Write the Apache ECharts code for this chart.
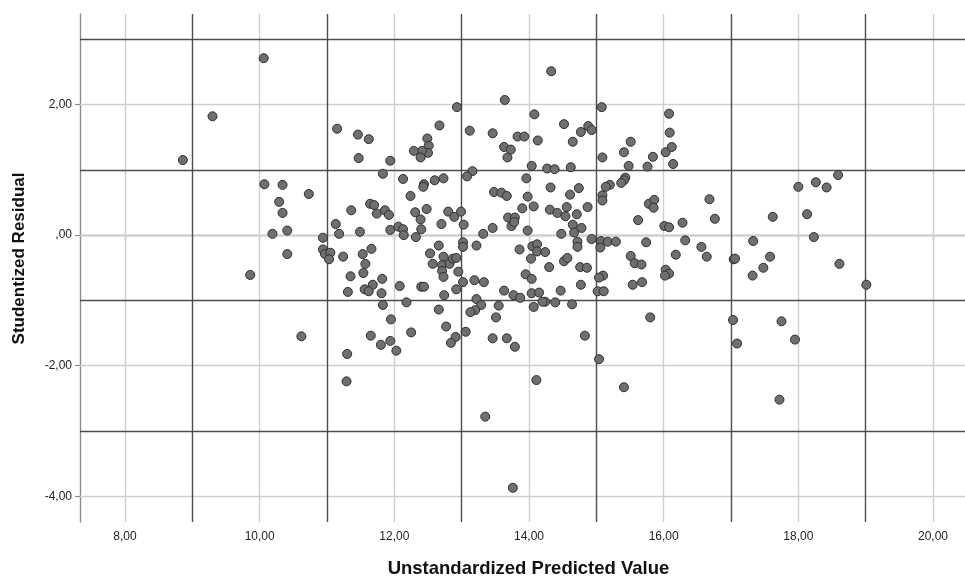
<!DOCTYPE html>
<html>
<head>
<meta charset="utf-8">
<script src="https://cdn.jsdelivr.net/npm/echarts@6/dist/echarts.min.js"></script>
<style>
  html, body { margin: 0; padding: 0; background: #ffffff; }
  #chart { width: 965px; height: 578px; }
</style>
</head>
<body>
<div id="chart"></div>
<script>
// Unstandardized predicted value for each case
const predicted = [
  8.86, 9.30, 10.06, 10.07, 10.34, 10.73, 10.29, 10.34, 10.41, 10.19,
  10.41, 10.94, 10.94, 10.97, 11.05, 11.03, 9.86, 10.62, 11.15, 11.46,
  11.62, 11.47, 11.83, 11.13, 11.18, 11.36, 11.49, 11.64, 11.70, 11.74,
  11.86, 11.66, 11.24, 11.53, 11.57, 11.54, 11.35, 11.82, 11.68, 11.56,
  11.62, 11.31, 11.81, 11.83, 11.65, 11.80, 11.30, 11.29, 13.64, 12.93,
  14.08, 12.67, 13.12, 13.46, 13.83, 13.93, 14.13, 12.49, 12.51, 12.50,
  12.41, 12.39, 12.29, 13.63, 13.73, 13.68, 11.94, 14.04, 13.16, 13.08,
  12.13, 12.60, 12.73, 12.44, 12.43, 13.96, 12.24, 13.48, 13.59, 13.67,
  13.98, 11.92, 12.31, 12.39, 12.48, 12.80, 12.89, 12.99, 13.03, 12.70,
  12.40, 11.94, 12.06, 12.13, 12.14, 12.32, 13.90, 14.07, 13.69, 13.79,
  13.74, 13.78, 13.46, 13.32, 13.98, 13.02, 13.02, 12.66, 13.22, 13.86,
  14.05, 14.12, 15.08, 16.08, 14.52, 14.77, 14.88, 14.93, 14.65, 16.09,
  15.51, 15.41, 15.09, 15.84, 16.03, 16.12, 16.14, 14.27, 14.38, 14.62,
  15.48, 15.76, 15.43, 15.41, 15.37, 15.20, 15.14, 15.09, 15.09, 14.32,
  14.74, 14.61, 14.87, 14.31, 14.42, 14.54, 14.56, 14.71, 15.78, 15.86,
  15.85, 15.62, 14.65, 14.67, 14.78, 14.48, 16.01, 16.08, 16.28, 14.93,
  15.07, 15.17, 15.29, 14.72, 14.72, 15.74, 16.32, 16.56, 15.06, 12.53,
  12.57, 12.73, 12.71, 12.82, 12.87, 12.92, 12.95, 14.33, 14.12, 14.24,
  14.03, 14.52, 14.57, 14.30, 14.76, 14.86, 15.10, 15.04, 15.51, 15.57,
  15.67, 16.68, 16.76, 16.64, 16.18, 17.33, 17.62, 17.04, 17.06, 17.58,
  17.48, 17.32, 18.00, 18.26, 18.42, 18.59, 18.13, 18.23, 18.61, 16.03,
  16.08, 16.02, 19.01, 17.03, 17.09, 17.75, 17.95, 17.72, 14.77, 15.54,
  15.68, 15.02, 15.11, 14.47, 14.24, 14.39, 14.64, 15.80, 14.83, 15.04,
  15.41, 12.71, 12.73, 13.02, 13.19, 13.33, 12.92, 12.74, 12.40, 12.44,
  12.08, 12.18, 11.95, 12.25, 11.94, 12.03, 12.66, 13.22, 13.29, 13.20,
  13.13, 13.55, 13.51, 12.77, 13.06, 12.91, 12.84, 13.46, 13.67, 13.79,
  13.63, 13.77, 13.87, 14.04, 14.15, 14.20, 14.07, 13.95, 14.04, 14.11,
  13.35, 13.76
];

// Studentized residual for each case (same order as predicted)
const residual = [
  1.15, 1.82, 2.71, 0.78, 0.77, 0.63, 0.51, 0.34, 0.07, 0.02,
  -0.29, -0.04, -0.22, -0.29, -0.27, -0.37, -0.61, -1.55, 1.63, 1.54,
  1.47, 1.18, 0.94, 0.17, 0.02, 0.38, 0.05, 0.48, 0.46, 0.33,
  0.38, -0.21, -0.33, -0.29, -0.44, -0.58, -0.63, -0.67, -0.76, -0.83,
  -0.86, -0.87, -0.89, -1.07, -1.54, -1.68, -1.82, -2.24, 2.07, 1.96,
  1.85, 1.68, 1.60, 1.56, 1.51, 1.51, 1.45, 1.48, 1.37, 1.26,
  1.29, 1.19, 1.29, 1.35, 1.31, 1.19, 1.14, 1.06, 0.98, 0.90,
  0.86, 0.84, 0.87, 0.78, 0.74, 0.87, 0.60, 0.66, 0.65, 0.60,
  0.59, 0.31, 0.35, 0.24, 0.40, 0.36, 0.28, 0.36, 0.16, 0.17,
  0.09, 0.08, 0.13, 0.09, 0.00, -0.03, 0.41, 0.44, 0.27, 0.27,
  0.14, 0.20, 0.11, 0.02, 0.07, -0.11, -0.18, -0.16, -0.16, -0.22,
  -0.17, -0.14, 1.96, 1.86, 1.70, 1.58, 1.67, 1.61, 1.43, 1.57,
  1.43, 1.27, 1.19, 1.20, 1.27, 1.35, 1.09, 1.02, 1.01, 1.04,
  1.06, 1.05, 0.88, 0.84, 0.80, 0.77, 0.74, 0.61, 0.53, 0.73,
  0.72, 0.62, 0.43, 0.39, 0.34, 0.29, 0.43, 0.32, 0.48, 0.54,
  0.42, 0.23, 0.16, 0.04, 0.11, 0.02, 0.14, 0.12, 0.19, -0.06,
  -0.09, -0.10, -0.10, -0.10, -0.18, -0.11, -0.08, -0.18, -0.19, -0.28,
  -0.44, -0.33, -0.46, -0.44, -0.36, -0.35, -0.56, 2.51, -0.25, -0.26,
  -0.36, -0.40, -0.35, -0.49, -0.49, -0.50, -0.62, -0.65, -0.32, -0.43,
  -0.45, 0.55, 0.25, -0.33, -0.30, -0.09, 0.28, -0.37, -0.36, -0.33,
  -0.50, -0.62, 0.74, 0.81, 0.73, 0.92, 0.32, -0.03, -0.44, -0.53,
  -0.59, -0.62, -0.76, -1.30, -1.66, -1.32, -1.60, -2.52, -0.76, -0.76,
  -0.72, -0.86, -0.86, -0.85, -1.02, -1.03, -1.06, -1.26, -1.54, -1.90,
  -2.33, -0.55, -0.64, -0.72, -0.69, -0.72, -0.83, -0.92, -0.79, -0.79,
  -0.78, -1.03, -1.29, -1.49, -1.62, -1.77, -1.14, -0.98, -1.07, -1.15,
  -1.18, -1.08, -1.26, -1.40, -1.48, -1.56, -1.65, -1.58, -1.58, -1.71,
  -0.85, -0.92, -0.96, -0.89, -0.88, -1.02, -1.10, -0.60, -0.67, -2.22,
  -2.78, -3.87
];

// Labelled tick values and the unlabelled reference lines between them
const xTickValues = [8, 10, 12, 14, 16, 18, 20];
const xMidLines = [9, 11, 13, 15, 17, 19];
const yTickValues = [-4, -2, 0, 2];
const yMidLines = [-3, -1, 1, 3];

const xRange = [7.332, 20.475];
const yRange = [-4.394, 3.387];

// SPSS-style number format: 2 decimals, comma separator, no leading zero for 0
function fmt(v) {
  if (v === 0) return ',00';
  return v.toFixed(2).replace('.', ',');
}

const FONT = 'Liberation Sans, Arial, sans-serif';
const lightGrid = { color: '#cfcfcf', width: 1.4, type: 'solid' };
const darkGrid = { color: '#4d4d4d', width: 1.4, type: 'solid' };

const gridLines = []
  .concat(xTickValues.map(v => ({ xAxis: v, lineStyle: lightGrid })))
  .concat(yTickValues.map(v => ({ yAxis: v, lineStyle: lightGrid })))
  .concat(xMidLines.map(v => ({ xAxis: v, lineStyle: darkGrid })))
  .concat(yMidLines.map(v => ({ yAxis: v, lineStyle: darkGrid })));

const points = predicted.map((x, i) => [x, residual[i]]);

const chart = echarts.init(document.getElementById('chart'), null, { renderer: 'canvas' });

chart.setOption({
  animation: false,
  backgroundColor: '#ffffff',
  textStyle: { fontFamily: FONT },
  grid: { left: 80, top: 14, right: 0, bottom: 56, containLabel: false, outerBoundsMode: 'none' },
  xAxis: {
    type: 'value',
    min: xRange[0],
    max: xRange[1],
    name: 'Unstandardized Predicted Value',
    nameLocation: 'middle',
    nameGap: 37,
    nameTextStyle: { fontSize: 18.5, fontWeight: 'bold', color: '#111111', fontFamily: FONT, padding: [0, 0, 0, 12] },
    axisLine: { show: true, lineStyle: { color: '#8c8c8c', width: 1.4 } },
    axisTick: { show: true, length: 5, customValues: xTickValues, lineStyle: { color: '#8c8c8c', width: 1.2 } },
    axisLabel: { customValues: xTickValues, formatter: fmt, margin: 9, fontSize: 12, color: '#222222', fontFamily: FONT },
    splitLine: { show: false }
  },
  yAxis: {
    type: 'value',
    min: yRange[0],
    max: yRange[1],
    name: 'Studentized Residual',
    nameLocation: 'middle',
    nameGap: 52,
    nameRotate: 90,
    nameTextStyle: { fontSize: 17, fontWeight: 'bold', color: '#111111', fontFamily: FONT, padding: [0, 0, 0, 19] },
    axisLine: { show: true, lineStyle: { color: '#8c8c8c', width: 1.4 } },
    axisTick: { show: true, length: 5, customValues: yTickValues, lineStyle: { color: '#8c8c8c', width: 1.2 } },
    axisLabel: { customValues: yTickValues, formatter: fmt, margin: 8, fontSize: 12, color: '#222222', fontFamily: FONT },
    splitLine: { show: false }
  },
  series: [
    {
      // reference grid drawn beneath the points
      type: 'scatter',
      data: [],
      silent: true,
      markLine: {
        silent: true,
        z: 1,
        symbol: ['none', 'none'],
        label: { show: false },
        emphasis: { disabled: true },
        animation: false,
        data: gridLines
      }
    },
    {
      type: 'scatter',
      z: 3,
      data: points,
      symbol: 'circle',
      symbolSize: 9,
      itemStyle: { color: '#6f6f6f', borderColor: '#2e2e2e', borderWidth: 1, opacity: 1 }
    }
  ]
});
</script>
</body>
</html>
